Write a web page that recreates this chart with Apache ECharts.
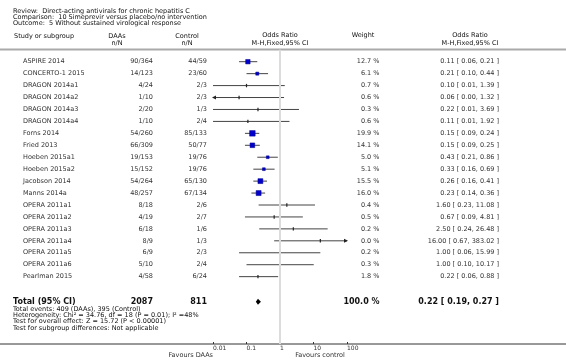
<!DOCTYPE html>
<html><head><meta charset="utf-8">
<script src="https://cdn.jsdelivr.net/npm/echarts@6/dist/echarts.min.js"></script>
<style>html,body{margin:0;padding:0;background:#fff}#c{width:566px;height:361px}</style>
</head><body><div id="c"></div>
<script>
const titleLines = [
  'Review:  Direct-acting antivirals for chronic hepatitis C',
  'Comparison:  10 Simeprevir versus placebo/no intervention',
  'Outcome:  5 Without sustained virological response'
];
const studies = ['ASPIRE 2014','CONCERTO-1 2015','DRAGON 2014a1','DRAGON 2014a2','DRAGON 2014a3','DRAGON 2014a4','Forns 2014','Fried 2013','Hoeben 2015a1','Hoeben 2015a2','Jacobson 2014','Manns 2014a','OPERA 2011a1','OPERA 2011a2','OPERA 2011a3','OPERA 2011a4','OPERA 2011a5','OPERA 2011a6','Pearlman 2015'];
const daasEvents = [90,14,4,1,2,1,54,66,19,15,54,48,8,4,6,8,6,5,4];
const daasTotal  = [364,123,24,10,20,10,260,309,153,152,264,257,18,19,18,9,9,10,58];
const ctrlEvents = [44,23,2,2,1,2,85,50,19,19,65,67,2,2,1,1,2,2,6];
const ctrlTotal  = [59,60,3,3,3,4,133,77,76,76,130,134,6,7,6,3,3,4,24];
const weights    = [12.7,6.1,0.7,0.6,0.3,0.6,19.9,14.1,5.0,5.1,15.5,16.0,0.4,0.5,0.2,0.0,0.2,0.3,1.8];
const oddsRatio  = [0.11,0.21,0.10,0.06,0.22,0.11,0.15,0.15,0.43,0.33,0.26,0.23,1.60,0.67,2.50,16.00,1.00,1.00,0.22];
const ciLow      = [0.06,0.10,0.01,0.00,0.01,0.01,0.09,0.09,0.21,0.16,0.16,0.14,0.23,0.09,0.24,0.67,0.06,0.10,0.06];
const ciHigh     = [0.21,0.44,1.39,1.32,3.69,1.92,0.24,0.25,0.86,0.69,0.41,0.36,11.08,4.81,26.48,383.02,15.99,10.17,0.88];
const totalLabel = 'Total (95% CI)';
const totalDaas = 2087, totalCtrl = 811, totalWeight = 100.0;
const totalOR = 0.22, totalLow = 0.19, totalHigh = 0.27;
const footLines = [
  'Total events: 409 (DAAs), 395 (Control)',
  'Heterogeneity: Chi\u00b2 = 34.76, df = 18 (P = 0.01); I\u00b2 =48%',
  'Test for overall effect: Z = 15.72 (P < 0.00001)',
  'Test for subgroup differences: Not applicable'
];
const xTicks = [0.01, 0.1, 1, 10, 100];
const favourLeft = 'Favours DAAs', favourRight = 'Favours control';

const FONT = 'DejaVu Sans';
const XMIN = 0.01, XMAX = 100;
const TOTAL_ROW = 20.1;
const chart = echarts.init(document.getElementById('c'), null, {renderer: 'canvas'});

const studyData = studies.map((s, i) => [oddsRatio[i], ciLow[i], ciHigh[i], i, weights[i]]);

function renderStudy(params, api) {
  const row = api.value(3);
  const or = api.value(0), lo = api.value(1), hi = api.value(2), w = api.value(4);
  const y = api.coord([1, row])[1];
  const xl = api.coord([Math.max(lo, XMIN), row])[0];
  const xh = api.coord([Math.min(hi, XMAX), row])[0];
  const xo = api.coord([or, row])[0];
  const kids = [{type: 'line', shape: {x1: xl, y1: y, x2: xh, y2: y}, style: {stroke: '#444', lineWidth: 1}}];
  if (lo < XMIN) kids.push({type: 'polygon', shape: {points: [[xl - 1, y], [xl + 3, y - 2], [xl + 3, y + 2]]}, style: {fill: '#222'}});
  if (hi > XMAX) kids.push({type: 'polygon', shape: {points: [[xh + 1, y], [xh - 3, y - 2], [xh - 3, y + 2]]}, style: {fill: '#222'}});
  if (w >= 2.5) {
    const s = Math.sqrt(w) * 1.25;
    kids.push({type: 'rect', shape: {x: xo - s / 2, y: y - s / 2, width: s, height: s}, style: {fill: '#0000cc', stroke: '#00008a', lineWidth: 0.5}});
  } else {
    kids.push({type: 'rect', shape: {x: xo - 0.6, y: y - 1.7, width: 1.2, height: 3.4}, style: {fill: '#222'}});
  }
  return {type: 'group', children: kids};
}
function renderTotal(params, api) {
  const row = api.value(3);
  const y = api.coord([1, row])[1];
  const xl = api.coord([api.value(1), row])[0];
  const xh = api.coord([api.value(2), row])[0];
  const xo = api.coord([api.value(0), row])[0];
  return {type: 'polygon', shape: {points: [[xl, y], [xo, y - 3], [xh, y], [xo, y + 3]]}, style: {fill: '#000'}};
}

chart.setOption({
  animation: false,
  backgroundColor: '#fff',
  grid: {left: 213, width: 134, top: 49.76, height: 294.24},
  xAxis: {
    type: 'log', logBase: 10, min: XMIN, max: XMAX, position: 'bottom',
    axisLine: {show: false, onZero: false},
    axisTick: {show: true, inside: true, length: 2, lineStyle: {color: '#333', width: 1}},
    axisLabel: {fontFamily: FONT, fontSize: 6, color: '#333', align: 'left', margin: 1.5,
      formatter: v => { const t = xTicks.find(k => Math.abs(Math.log10(k) - Math.log10(v)) < 1e-6); return t === undefined ? '' : String(t); }},
    splitLine: {show: false}
  },
  yAxis: {type: 'value', inverse: true, min: -1, max: 23.64, show: false},
  series: [
    {type: 'custom', renderItem: renderStudy, data: studyData, encode: {x: [0, 1, 2], y: 3}, clip: false, z: 3,
     markLine: {silent: true, symbol: 'none', label: {show: false}, lineStyle: {color: '#dcdcdc', width: 2, type: 'solid'}, data: [{xAxis: 1}]}},
    {type: 'custom', renderItem: renderTotal, data: [[totalOR, totalLow, totalHigh, TOTAL_ROW]], encode: {x: [0, 1, 2], y: 3}, z: 3}
  ]
});

const rowY = i => chart.convertToPixel({yAxisIndex: 0}, i);
const txt = (text, x, y, align, opts) => Object.assign({
  type: 'text', x: x, y: y, silent: true,
  style: Object.assign({text: text, fontFamily: FONT, fontSize: 6.5, fill: '#333', align: align, verticalAlign: 'middle'}, opts || {})
});
const g = [];
titleLines.forEach((t, k) => g.push(txt(t, 13, 11 + k * 6.2, 'left', {fill: '#111'})));
g.push(txt('Study or subgroup', 14, 36.5, 'left', {fill: '#111'}));
g.push(txt('DAAs', 117, 36, 'center', {fill: '#111'}));
g.push(txt('n/N', 117, 43.5, 'center', {fill: '#111'}));
g.push(txt('Control', 187, 36, 'center', {fill: '#111'}));
g.push(txt('n/N', 187, 43.5, 'center', {fill: '#111'}));
g.push(txt('Odds Ratio', 280, 35, 'center', {fill: '#111'}));
g.push(txt('M-H,Fixed,95% CI', 280, 43.5, 'center', {fill: '#111'}));
g.push(txt('Weight', 363, 35, 'center', {fill: '#111'}));
g.push(txt('Odds Ratio', 470, 35, 'center', {fill: '#111'}));
g.push(txt('M-H,Fixed,95% CI', 470, 43.5, 'center', {fill: '#111'}));
g.push({type: 'line', silent: true, shape: {x1: 0, y1: 49.5, x2: 566, y2: 49.5}, style: {stroke: '#aaa', lineWidth: 2}});
studies.forEach((s, i) => {
  const y = rowY(i);
  g.push(txt(s, 23, y, 'left'));
  g.push(txt(daasEvents[i] + '/' + daasTotal[i], 153, y, 'right'));
  g.push(txt(ctrlEvents[i] + '/' + ctrlTotal[i], 207, y, 'right'));
  g.push(txt(weights[i].toFixed(1) + ' %', 379.5, y, 'right'));
  g.push(txt(oddsRatio[i].toFixed(2) + ' [ ' + ciLow[i].toFixed(2) + ', ' + ciHigh[i].toFixed(2) + ' ]', 499, y, 'right'));
});
const ty = rowY(TOTAL_ROW);
const bold = {fontWeight: 'bold', fontSize: 8, fill: '#111'};
g.push(txt(totalLabel, 13, ty, 'left', bold));
g.push(txt(String(totalDaas), 153, ty, 'right', bold));
g.push(txt(String(totalCtrl), 207, ty, 'right', bold));
g.push(txt(totalWeight.toFixed(1) + ' %', 379.5, ty, 'right', bold));
g.push(txt(totalOR.toFixed(2) + ' [ ' + totalLow.toFixed(2) + ', ' + totalHigh.toFixed(2) + ' ]', 499, ty, 'right', bold));
footLines.forEach((t, k) => g.push(txt(t, 13, 309 + k * 6.4, 'left', {fill: '#111'})));
g.push({type: 'line', silent: true, shape: {x1: 0, y1: 344, x2: 566, y2: 344}, style: {stroke: '#333', lineWidth: 1}});
g.push(txt(favourLeft, 213, 355.5, 'right'));
g.push(txt(favourRight, 320, 355.5, 'center'));
chart.setOption({graphic: {elements: g}});
</script>
</body></html>
